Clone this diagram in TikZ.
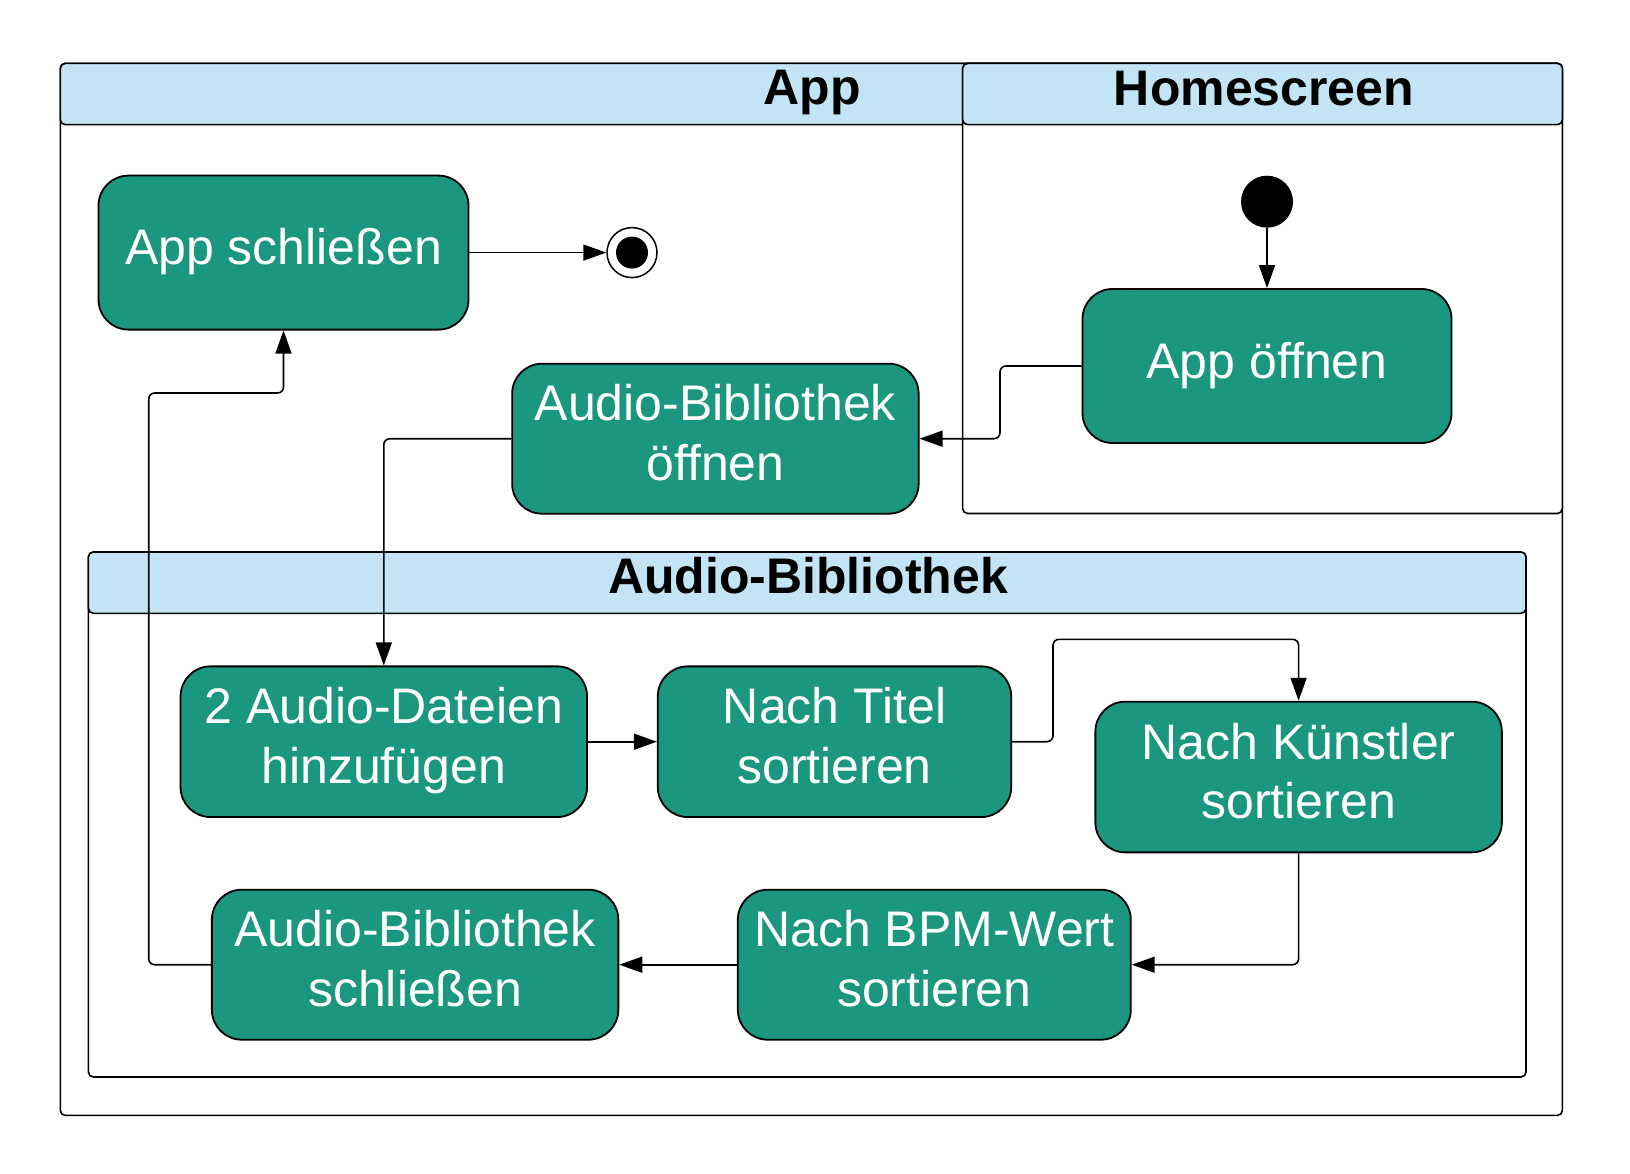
\documentclass[tikz,border=0pt]{standalone}
\usepackage{fontspec}
\setmainfont{Liberation Sans}
\usetikzlibrary{arrows.meta}
\definecolor{teal}{HTML}{1B977F}
\definecolor{hdr}{HTML}{C2E4F5}
\newcommand{\st}{\rule[-16pt]{0pt}{56pt}}
\begin{document}
\begin{tikzpicture}[x=1pt,y=-1pt,
  frame/.style={draw=black,line width=1.6pt,rounded corners=5pt},
  hdrbox/.style={frame,fill=hdr},
  ttl/.style={anchor=base,font=\fontsize{50}{59.5}\selectfont\bfseries},
  act/.style={draw=black,line width=1.8pt,fill=teal,rounded corners=30pt,text=white,
    align=center,inner sep=0pt,font=\fontsize{50}{59.5}\selectfont},
  conn/.style={draw=black,line width=1.6pt,rounded corners=6pt,-{Triangle[length=23pt,width=16pt]}}
]
\useasboundingbox (0,0) rectangle (1630,1174);
% App frame
\draw[frame] (60.3,63.4) rectangle (1562.4,1115.4);
\draw[hdrbox] (60.3,63.4) rectangle (1562.4,124.7);
\node[ttl] (tapp) at (812,105) {App};
% Homescreen frame
\draw[frame,fill=white] (962.6,63.4) rectangle (1562.4,513.5);
\draw[hdrbox] (962.6,63.4) rectangle (1562.4,124.7);
\node[ttl] (thome) at (1264,106) {Homescreen};
% Audio-Bibliothek frame
\draw[frame] (88.4,552) rectangle (1526,1077);
\draw[hdrbox] (88.4,552) rectangle (1526,613.3);
\node[ttl] (tlib) at (808,593.6) {Audio-Bibliothek};
% nodes
\node[act,minimum width=370pt,minimum height=154pt] (close) at (283.5,252.6) {\st App schließen};
\node[circle,draw=black,line width=1.5pt,fill=white,minimum size=50pt,inner sep=0pt] (final) at (632,252.6) {};
\node[circle,fill=black,minimum size=32pt,inner sep=0pt] (finalin) at (final.center) {};
\node[circle,fill=black,minimum size=52pt,inner sep=0pt] (init) at (1267,201.7) {};
\node[act,minimum width=369pt,minimum height=154pt] (open) at (1267,366) {\st App öffnen};
\node[act,minimum width=406.5pt,minimum height=150pt] (libopen) at (715.4,438.7) {\st Audio-Bibliothek\\\st öffnen};
\node[act,minimum width=406.5pt,minimum height=150.7pt] (add) at (383.8,741.7) {\st 2 Audio-Dateien\\\st hinzufügen};
\node[act,minimum width=353.4pt,minimum height=150.7pt] (title) at (834.5,741.7) {\st Nach Titel\\\st sortieren};
\node[act,minimum width=406.5pt,minimum height=150.7pt] (artist) at (1298.6,777) {\st Nach Künstler\\\st sortieren};
\node[act,minimum width=393pt,minimum height=150pt] (bpm) at (934.3,964.7) {\st Nach BPM-Wert\\\st sortieren};
\node[act,minimum width=406.5pt,minimum height=150pt] (libclose) at (415.1,964.7) {\st Audio-Bibliothek\\\st schließen};
% waypoints
\coordinate (w1) at (1000,366);
\coordinate (w2) at (1053,639.3);
\coordinate (w3) at (148.7,393);
% connectors
\draw[conn] (close.east) -- (final.west);
\draw[conn] (init.south) -- (open.north);
\draw[conn] (open.west) -- (w1) |- (libopen.east);
\draw[conn] (libopen.west) -| (add.north);
\draw[conn] (add.east) -- (title.west);
\draw[conn] (title.east) -| (w2) -| (artist.north);
\draw[conn] (artist.south) |- (bpm.east);
\draw[conn] (bpm.west) -- (libclose.east);
\draw[conn] (libclose.west) -| (w3) -| (close.south);
\end{tikzpicture}
\end{document}
